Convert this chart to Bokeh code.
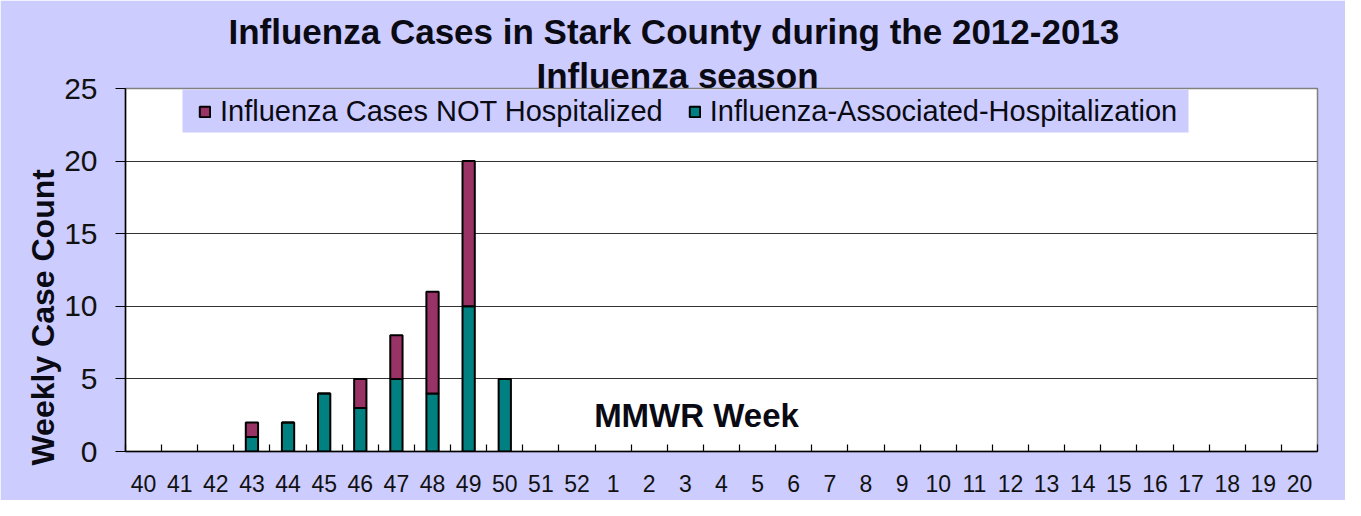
import numpy as np
from bokeh.plotting import figure
from bokeh.models import (ColumnDataSource, Range1d, FixedTicker, Legend, LegendItem, Label,
                          Title, BoxAnnotation)
from bokeh.embed import file_html
from bokeh.resources import INLINE

# ---- data ----
weeks = ["40", "41", "42", "43", "44", "45", "46", "47", "48", "49", "50", "51", "52",
         "1", "2", "3", "4", "5", "6", "7", "8", "9", "10", "11", "12", "13", "14",
         "15", "16", "17", "18", "19", "20"]
# None = no bar drawn for that week in the original chart
hospitalized = [None, None, None, 1, 2, 4, 3, 5, 4, 10, 5, None, None,
                None, None, None, None, None, None, None, None, None, None, None, None,
                None, None, None, None, None, None, None, None]
not_hospitalized = [None, None, None, 1, 0, 0, 2, 3, 7, 10, 0, None, None,
                    None, None, None, None, None, None, None, None, None, None, None, None,
                    None, None, None, None, None, None, None, None]
series_names = ["Influenza Cases NOT Hospitalized", "Influenza-Associated-Hospitalization"]
title_lines = ["Influenza Cases in Stark County during the 2012-2013", "Influenza season"]
y_ticks = [0, 5, 10, 15, 20, 25]

TEAL = "#008080"
MAROON = "#993366"
LAV = "#CCCCFF"
FONT = "Liberation Sans"
INK = "#0a0a14"

n = len(weeks)
xpos = np.arange(n) + 0.5
hosp_arr = np.array([np.nan if v is None else v for v in hospitalized], dtype=float)
noth_arr = np.array([np.nan if v is None else v for v in not_hospitalized], dtype=float)
source = ColumnDataSource(dict(x=xpos, hosp=hosp_arr, nothosp=noth_arr))

p = figure(width=1345, height=500, output_backend="svg", toolbar_location=None,
           x_range=Range1d(0, n), y_range=Range1d(0, 25),
           min_border_left=125, min_border_right=28, min_border_top=88, min_border_bottom=49)
p.border_fill_color = LAV
p.background_fill_color = "white"
p.outline_line_color = "#808080"
p.outline_line_width = 1.5
p.styles = {"outline": "2px solid #4d4d4d", "outline-offset": "-5px"}

r = p.vbar_stack(["hosp", "nothosp"], x="x", width=0.34, source=source,
                 fill_color=[TEAL, MAROON], line_color="black", line_width=2)

# axes
p.xaxis.ticker = FixedTicker(ticks=list(xpos), minor_ticks=list(range(n + 1)))
p.xaxis.major_label_overrides = {float(x): w for x, w in zip(xpos, weeks)}
p.xaxis.major_tick_in = 0
p.xaxis.major_tick_out = 0
p.xaxis.minor_tick_in = 7
p.xaxis.minor_tick_out = 0
p.xaxis.minor_tick_line_color = "black"
p.xaxis.minor_tick_line_width = 1.2
p.xaxis.axis_line_color = "black"
p.xaxis.axis_line_width = 1.5
p.xaxis.major_label_text_font = FONT
p.xaxis.major_label_text_font_size = "23px"
p.xaxis.major_label_text_color = "#111111"
p.xaxis.major_label_standoff = 23

p.yaxis.ticker = FixedTicker(ticks=y_ticks)
p.yaxis.minor_tick_line_color = None
p.yaxis.major_tick_in = 0
p.yaxis.major_tick_out = 10
p.yaxis.major_tick_line_color = "black"
p.yaxis.axis_line_color = "black"
p.yaxis.axis_line_width = 1.5
p.yaxis.major_label_text_font = FONT
p.yaxis.major_label_text_font_size = "30px"
p.yaxis.major_label_text_color = "#111111"
p.yaxis.major_label_standoff = 18

p.xgrid.grid_line_color = None
p.ygrid.grid_line_color = "#333333"
p.ygrid.grid_line_width = 1.2
p.ygrid.ticker = FixedTicker(ticks=y_ticks[1:-1])

# legend background panel (wider than Bokeh's own legend box, as in the original)
p.add_layout(BoxAnnotation(left=57, right=1063, bottom=319, top=362,
                           left_units="screen", right_units="screen",
                           bottom_units="screen", top_units="screen",
                           fill_color=LAV, fill_alpha=1.0, line_color=None))

# legend (NOT hospitalized first, as in the original)
legend = Legend(items=[LegendItem(label=series_names[0], renderers=[r[1]]),
                       LegendItem(label=series_names[1], renderers=[r[0]])],
                orientation="horizontal", location=(73, 323),
                background_fill_color=LAV, background_fill_alpha=1.0,
                border_line_color=None, padding=0, margin=0, spacing=25,
                glyph_width=13, glyph_height=13, label_standoff=9, label_height=19,
                label_text_font=FONT, label_text_font_size="29px",
                label_text_color=INK)
p.add_layout(legend, "center")

# two-line title (second line added first = closest to plot)
p.add_layout(Title(text=title_lines[1], align="left", offset=411, standoff=-12,
                   text_font=FONT, text_font_size="35px", text_font_style="bold",
                   text_color=INK), "above")
p.add_layout(Title(text=title_lines[0], align="left", offset=103, standoff=17,
                   text_font=FONT, text_font_size="35px", text_font_style="bold",
                   text_color=INK), "above")

# y-axis title
p.add_layout(Title(text="Weekly Case Count", align="left", offset=-14, standoff=2,
                   text_font=FONT, text_font_size="32px", text_font_style="bold",
                   text_color=INK), "left")

# x-axis title, placed inside the plot area as in the original
p.add_layout(Label(x=571, y=36, x_units="screen", y_units="screen", text="MMWR Week",
                   text_align="center", text_baseline="alphabetic", text_font=FONT,
                   text_font_size="33px", text_font_style="bold", text_color=INK))

open("out.html", "w").write(file_html(p, INLINE))
